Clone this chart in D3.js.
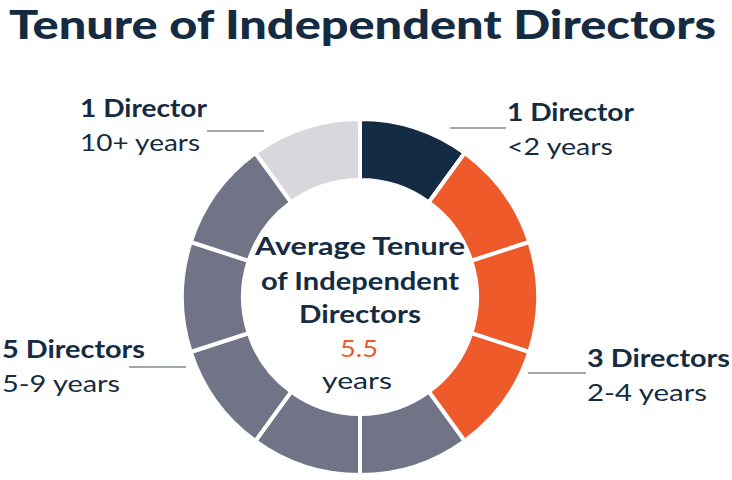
<!DOCTYPE html>
<html>
<head>
<meta charset="utf-8">
<script src="https://cdn.jsdelivr.net/npm/d3@7"></script>
<style>
  html, body { margin: 0; padding: 0; background: #ffffff; }
  svg { display: block; }
  text { font-family: Lato, "Open Sans", sans-serif; }
</style>
</head>
<body>
<svg id="chart" width="732" height="480"></svg>
<script>
// ---- data ----
const title = "Tenure of Independent Directors";
const groups = ["<2 years", "2-4 years", "5-9 years", "10+ years"];
const counts = [1, 3, 5, 1];
const countLabels = ["1 Director", "3 Directors", "5 Directors", "1 Director"];
const groupColors = ["#142c43", "#ee5a2a", "#717386", "#d7d7dc"];
const centerLines = ["Average Tenure", "of Independent", "Directors"];
const averageValue = "5.5";
const averageUnit = "years";

// ---- layout ----
const cx = 360, cy = 297;
const rOuter = 178, rInner = 117;
const navy = "#152b42";

const svg = d3.select("#chart");

function stretch(sel, target) {
  return sel.attr("textLength", target).attr("lengthAdjust", "spacingAndGlyphs");
}

// title
stretch(svg.append("text")
  .attr("x", 9).attr("y", 38.5)
  .attr("font-size", 39).attr("font-weight", 900)
  .attr("fill", navy)
  .text(title), 707);

// one segment per director
const directors = [];
groups.forEach((g, i) => { for (let k = 0; k < counts[i]; k++) directors.push({ group: i }); });

const pie = d3.pie().value(() => 1).sort(null);
const arc = d3.arc().innerRadius(rInner).outerRadius(rOuter);
const color = d3.scaleOrdinal().domain(d3.range(groups.length)).range(groupColors);

const g = svg.append("g").attr("transform", `translate(${cx},${cy})`);
g.selectAll("path")
  .data(pie(directors))
  .join("path")
  .attr("d", arc)
  .attr("fill", d => color(d.data.group))
  .attr("stroke", "#ffffff")
  .attr("stroke-width", 4)
  .attr("stroke-linejoin", "miter");

// center text
const centerBase = [255, 290, 323];
const centerWidths = [210, 198, 122];
centerLines.forEach((t, i) => {
  stretch(svg.append("text")
    .attr("x", cx - centerWidths[i] / 2).attr("y", centerBase[i])
    .attr("font-size", 24).attr("font-weight", 700)
    .attr("fill", navy).text(t), centerWidths[i]);
});
stretch(svg.append("text").attr("x", cx - 20).attr("y", 357)
  .attr("font-size", 24).attr("fill", "#ee5a2a").text(averageValue), 38);
stretch(svg.append("text").attr("x", cx - 38).attr("y", 389)
  .attr("font-size", 24).attr("fill", navy).text(averageUnit), 70);

// annotations (group index -> placement)
const ann = [
  { gi: 0, x: 507, y1: 121, y2: 155, lx1: 450, lx2: 506, ly: 128, w1: 127, w2: 106 },
  { gi: 1, x: 587, y1: 367, y2: 401, lx1: 528, lx2: 586, ly: 373, w1: 143, w2: 120 },
  { gi: 2, x: 2,   y1: 358, y2: 392, lx1: 129, lx2: 186, ly: 367, w1: 143, w2: 118 },
  { gi: 3, x: 80,  y1: 117, y2: 151, lx1: 207, lx2: 264, ly: 131, w1: 127, w2: 120 }
];
ann.forEach(a => {
  stretch(svg.append("text").attr("x", a.x).attr("y", a.y1)
    .attr("font-size", 24).attr("font-weight", 700).attr("fill", navy)
    .text(countLabels[a.gi]), a.w1);
  stretch(svg.append("text").attr("x", a.x).attr("y", a.y2)
    .attr("font-size", 23).attr("font-weight", 400).attr("fill", navy)
    .text(groups[a.gi]), a.w2);
  svg.append("line").attr("x1", a.lx1).attr("x2", a.lx2)
    .attr("y1", a.ly).attr("y2", a.ly)
    .attr("stroke", "#44505e").attr("stroke-width", 1.2);
});
</script>
</body>
</html>
